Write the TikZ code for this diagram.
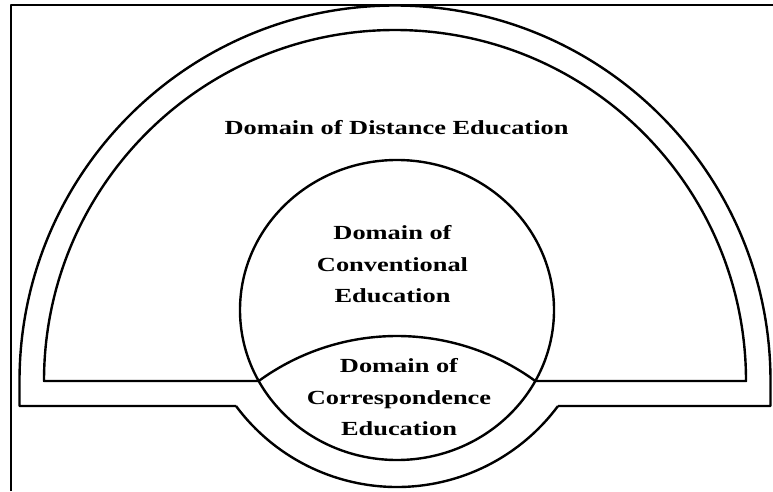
\documentclass[tikz,border=0pt]{standalone}
\usepackage{fontspec}
\setmainfont{Liberation Serif}
\usetikzlibrary{positioning}

\begin{document}
\begin{tikzpicture}[
    x=1pt, y=1pt,
    line join=round,
    frameline/.style={line width=1.2pt},
    ring/.style={line width=2.4pt},
    lbl/.style={font=\fontsize{20}{31.5}\selectfont\bfseries, xscale=1.32, align=center, inner sep=0pt}
]

    % --- 1. 畫布與外框 ---
    \useasboundingbox (0,0) rectangle (773,491);
    \draw[frameline] (11,0) -- (11,486) -- (773,486);

    % --- 2. 半圓環 (Distance Education) ---
    % 外圈: 半圓 + 底邊
    \draw[ring] (236,85) -- (19.5,85) -- (19.5,110) arc (180:0:375.5) -- (770.5,85) -- (558,85);
    % 外圈下方的弧
    \draw[ring] (236,85) arc (216.58:323.42:200.5);
    % 內圈
    \draw[ring] (258.7,110) -- (44,110) arc (180:0:351) -- (535.3,110);

    % --- 3. Conventional 圓 與 Correspondence 透鏡 ---
    \draw[ring] (397,181) ellipse [x radius=157, y radius=150];
    \draw[ring] (258.7,110) arc (126.05:53.95:235); % 透鏡上緣

    % --- 4. 文字標籤 ---
    \node[lbl, anchor=base] (lbl_distance) at (396.5,356) {Domain of Distance Education};
    \node[lbl, anchor=north] (lbl_conventional) at (392.5,265.7) {Domain of\\Conventional\\Education};
    \node[lbl, anchor=north] (lbl_correspondence) at (399,132.7) {Domain of\\Correspondence\\Education};

\end{tikzpicture}
\end{document}
